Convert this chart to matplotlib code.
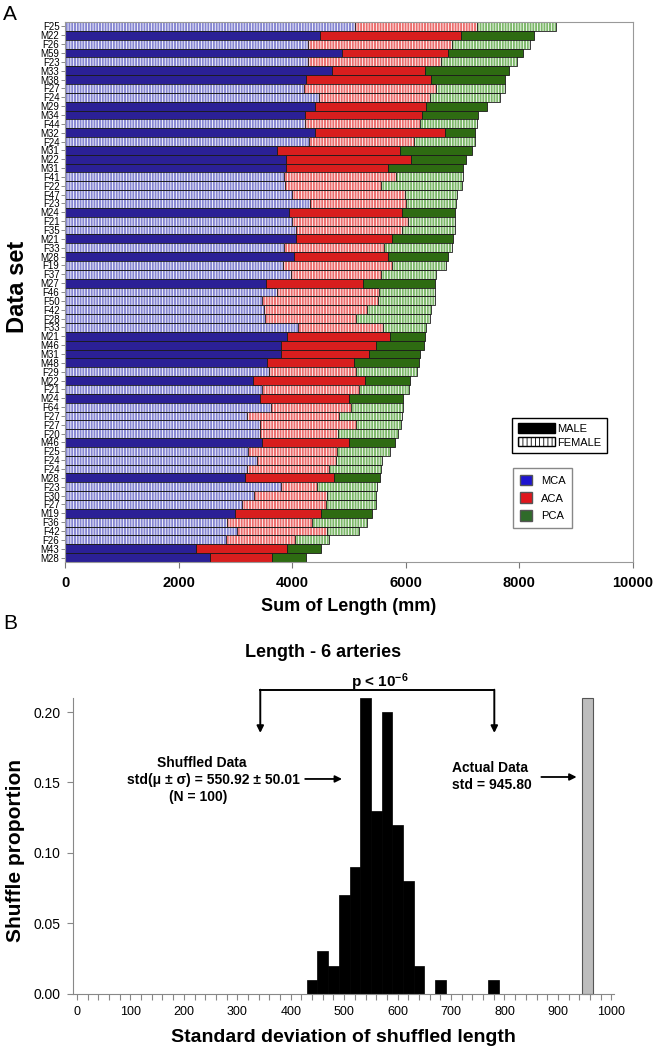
import numpy as np
import matplotlib.pyplot as plt
from matplotlib.patches import Patch
from matplotlib.ticker import MultipleLocator, FormatStrFormatter

plt.rcParams['font.family'] = ['Liberation Sans', 'DejaVu Sans']
plt.rcParams['hatch.linewidth'] = 0.6
plt.rcParams['mathtext.fontset'] = 'custom'
plt.rcParams['mathtext.rm'] = 'Liberation Sans:bold'
plt.rcParams['mathtext.default'] = 'rm'

# panel A: per subject length of each artery group (mm), top to bottom
subjects = ['F25', 'M22', 'F26', 'M59', 'F23', 'M33', 'M38', 'F27', 'F24', 'M29',
            'M34', 'F44', 'M32', 'F24', 'M31', 'M22', 'M31', 'F41', 'F22', 'F47',
            'F23', 'M24', 'F21', 'F35', 'M21', 'F33', 'M28', 'F19', 'F37', 'M27',
            'F46', 'F50', 'F42', 'F28', 'F33', 'M21', 'M46', 'M31', 'M48', 'F29',
            'M22', 'F21', 'M24', 'F64', 'F27', 'F27', 'F20', 'M46', 'F25', 'F24',
            'F24', 'M28', 'F23', 'F30', 'F27', 'M19', 'F36', 'F42', 'F26', 'M43', 'M28']
mca = [5110, 4490, 4280, 4880, 4280, 4700, 4240, 4210, 4480, 4410,
       4220, 4220, 4410, 4300, 3740, 3890, 3890, 3850, 3870, 3990,
       4320, 3940, 4000, 4070, 4060, 3850, 4040, 3840, 3980, 3530,
       3740, 3470, 3500, 3520, 4110, 3910, 3810, 3810, 3560, 3600,
       3310, 3460, 3440, 3620, 3210, 3440, 3440, 3470, 3230, 3380,
       3210, 3170, 3810, 3330, 3120, 3000, 2850, 3030, 2830, 2300, 2560]
aca = [2140, 2480, 2540, 1870, 2340, 1640, 2210, 2320, 1950, 1940,
       2070, 2030, 2280, 1850, 2160, 2210, 1790, 1980, 1690, 2000,
       1680, 1990, 2030, 1870, 1700, 1770, 1640, 1920, 1580, 1710,
       1790, 2040, 1820, 1600, 1480, 1820, 1660, 1540, 1520, 1530,
       1970, 1720, 1560, 1410, 1620, 1690, 1370, 1530, 1550, 1390,
       1440, 1570, 620, 1290, 1480, 1500, 1500, 1590, 1220, 1600, 1090]
pca = [1400, 1280, 1370, 1310, 1340, 1480, 1290, 1220, 1220, 1080,
       980, 1010, 530, 1070, 1260, 960, 1330, 1170, 1430, 920,
       880, 930, 840, 930, 1070, 1200, 1070, 940, 980, 1280,
       980, 1000, 1130, 1300, 760, 600, 850, 900, 1160, 1060,
       800, 880, 950, 920, 1110, 780, 1060, 810, 940, 810,
       920, 810, 1070, 850, 870, 910, 970, 560, 600, 600, 600]
arteries = ['MCA', 'ACA', 'PCA']

# panel B: histogram of shuffled std (bin left edges, width 20) and proportions
sd_bins = [430, 450, 470, 490, 510, 530, 550, 570, 590, 610, 630, 670, 770]
sd_prop = [0.01, 0.03, 0.02, 0.07, 0.09, 0.21, 0.13, 0.20, 0.12, 0.08, 0.02, 0.01, 0.01]
actual_sd = 946
actual_prop = 0.21

male_col = ['#2B2096', '#D81E1E', '#2E6B12']
fem_col = ['#8686D2', '#EC6E6E', '#7DB86A']
legend_col = ['#1E14D0', '#E0161C', '#2F6B2A']

fig = plt.figure(figsize=(6.55, 10.48), dpi=100)

# ---------------- A ----------------
ax = fig.add_axes([65 / 655, 1 - 562 / 1048, 568 / 655, 540 / 1048])
y = np.arange(len(subjects))
male = np.array([s[0] == 'M' for s in subjects])
left = np.zeros(len(subjects))
for vals, mc, fc in zip([mca, aca, pca], male_col, fem_col):
    vals = np.array(vals, dtype=float)
    ax.barh(y[male], vals[male], left=left[male], height=1.0,
            color=mc, edgecolor='#1a1a1a', lw=0.6)
    ax.barh(y[~male], vals[~male], left=left[~male], height=1.0,
            color=fc, edgecolor='white', hatch='||||||', lw=0)
    ax.barh(y[~male], vals[~male], left=left[~male], height=1.0,
            facecolor='none', edgecolor='#1a1a1a', lw=0.6)
    left += vals

ax.set_xlim(0, 10000)
ax.set_ylim(len(subjects) - 0.5, -0.5)
ax.set_yticks(y)
ax.set_yticklabels(subjects, fontsize=7, family=['Liberation Sans Narrow', 'Liberation Sans'])
ax.set_xticks(np.arange(0, 10001, 2000))
ax.set_xticklabels([str(v) for v in range(0, 10001, 2000)], fontsize=10.5, fontweight='bold')
ax.tick_params(axis='y', length=3, width=0.6, color='#777', pad=1)
ax.tick_params(axis='x', length=4, width=0.8, color='#777', pad=6)
for sp in ax.spines.values():
    sp.set_color('#999')
ax.set_xlabel('Sum of Length (mm)', fontsize=13, fontweight='bold', labelpad=6)
fig.text(18 / 655, 1 - 287 / 1048, 'Data set', fontsize=17, fontweight='bold',
         rotation=90, ha='center', va='center')

h1 = [Patch(facecolor='black', edgecolor='black'),
      Patch(facecolor='white', edgecolor='black', hatch='||||')]
leg1 = ax.legend(h1, ['MALE', 'FEMALE'], loc='upper left', bbox_to_anchor=(0.787, 0.267),
                 fancybox=False, edgecolor='black', fontsize=8, handlelength=3.4,
                 handleheight=0.9, handletextpad=0.2, borderaxespad=0, labelspacing=0.3,
                 borderpad=0.5, framealpha=1)
leg1.get_frame().set_linewidth(1.0)
ax.add_artist(leg1)
h2 = [Patch(facecolor=c, edgecolor='#555') for c in legend_col]
leg2 = ax.legend(h2, arteries, loc='upper left', bbox_to_anchor=(0.789, 0.174),
                 fancybox=False, edgecolor='#888', fontsize=8, handlelength=1.1,
                 handleheight=1.1, handletextpad=0.8, borderaxespad=0, labelspacing=0.6,
                 borderpad=0.6, framealpha=1)

fig.text(3 / 655, 1 - 5 / 1048, 'A', fontsize=15, ha='left', va='top')

# ---------------- B ----------------
bx = fig.add_axes([73 / 655, 1 - 993.7 / 1048, 541 / 655, 295.7 / 1048])
bx.bar(sd_bins, sd_prop, width=20, align='edge', color='black', edgecolor='black', lw=0.5)
bx.bar(actual_sd, actual_prop, width=20, align='edge', color='#BDBDBD',
       edgecolor='#555555', lw=0.8, clip_on=False)
bx.set_xlim(-7.5, 1005)
bx.set_ylim(0, 0.21)
bx.xaxis.set_major_locator(MultipleLocator(100))
bx.xaxis.set_minor_locator(MultipleLocator(20))
bx.yaxis.set_major_locator(MultipleLocator(0.05))
bx.yaxis.set_major_formatter(FormatStrFormatter('%.2f'))
bx.tick_params(axis='x', which='both', length=4, width=0.8, color='#888', labelsize=9, pad=5)
bx.tick_params(axis='y', length=4, width=0.8, color='#888', labelsize=10, pad=5)
bx.spines['top'].set_visible(False)
bx.spines['right'].set_visible(False)
bx.spines['left'].set_color('#888')
bx.spines['bottom'].set_color('#888')
bx.set_xlabel('Standard deviation of shuffled length', fontsize=14, fontweight='bold', labelpad=8)
fig.text(16 / 655, 1 - 850 / 1048, 'Shuffle proportion', fontsize=15, fontweight='bold',
         rotation=90, ha='center', va='center')

bx.text(461, 0.2423, 'Length - 6 arteries', fontsize=13, fontweight='bold',
        ha='center', va='center')
bx.text(567, 0.2215, r'p < 10$^{-6}$', fontsize=11, fontweight='bold',
        ha='center', va='center')
top_y = 0.2154
bx.plot([343, 781], [top_y, top_y], color='black', lw=1.4, clip_on=False)
for xb in [343, 781]:
    bx.annotate('', xy=(xb, 0.1852), xytext=(xb, top_y + 0.0005),
                arrowprops=dict(arrowstyle='-|>', color='black', lw=1.4,
                                shrinkA=0, shrinkB=0, mutation_scale=10),
                annotation_clip=False)

bx.text(234, 0.1637, 'Shuffled Data', fontsize=10, fontweight='bold', ha='center', va='center')
bx.text(256, 0.1516, 'std(\u03bc \u00b1 \u03c3) = 550.92 \u00b1 50.01', fontsize=10,
        fontweight='bold', ha='center', va='center')
bx.text(227, 0.1396, '(N = 100)', fontsize=10, fontweight='bold', ha='center', va='center')
bx.annotate('', xy=(496, 0.1525), xytext=(427, 0.1525),
            arrowprops=dict(arrowstyle='-|>', color='black', lw=1.3,
                            shrinkA=0, shrinkB=0, mutation_scale=10))

bx.text(702, 0.1603, 'Actual Data', fontsize=10, fontweight='bold', ha='left', va='center')
bx.text(702, 0.1482, 'std = 945.80', fontsize=10, fontweight='bold', ha='left', va='center')
bx.annotate('', xy=(935, 0.1539), xytext=(869, 0.1539),
            arrowprops=dict(arrowstyle='-|>', color='black', lw=1.3,
                            shrinkA=0, shrinkB=0, mutation_scale=10))

fig.text(3 / 655, 1 - 614 / 1048, 'B', fontsize=15, ha='left', va='top')

fig.savefig('out.png', dpi=100)
